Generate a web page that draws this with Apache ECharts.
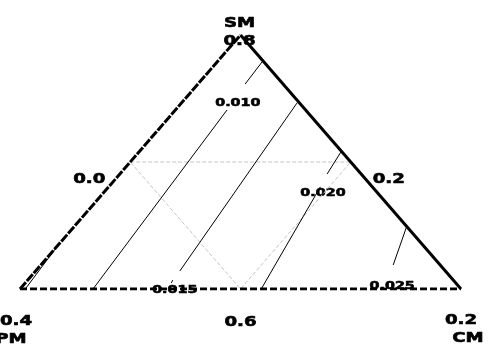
<!DOCTYPE html>
<html>
<head>
<meta charset="utf-8">
<script src="https://cdn.jsdelivr.net/npm/echarts@6/dist/echarts.min.js"></script>
<style>
html, body { margin: 0; padding: 0; background: #fff; }
#chart { width: 488px; height: 344px; }
</style>
</head>
<body>
<div id="chart"></div>
<script>
/* ternary points are [SM, CM], PM = 1 - SM - CM */

var vertexPM = [0, 0];
var vertexSM = [1, 0];
var vertexCM = [0, 1];

// inner (grey) triangle through the edge midpoints
var midPoints = [[0.5, 0], [0.5, 0.5], [0, 0.5]];

// contour lines, null = gap for the label
var contourA = [[0, 0.012], [0.16, 0.001]];
var contourB = [[0, 0.1655], [0.705, 0.117], null, [0.807, 0.107], [0.894, 0.102]];
var contourC = [[0.024, 0.331], [0.035, 0.329], null, [0.071, 0.327], [0.732, 0.262]];
var contourD = [[0, 0.547], [0.402, 0.48], null, [0.453, 0.47], [0.539, 0.458]];
var contourE = [[0.252, 0.752], [0.0945, 0.799]];

var contourLabels = ['0.010', '0.015', '0.020', '0.025'];
var contourLabelAt = [[0.732, 0.128], [-0.004, 0.353], [0.378, 0.498], [0.012, 0.838]];

var cornerNames = ['PM', 'SM', 'CM'];
var cornerTicks = ['0.4', '0.8', '0.2'];
var edgeTicks = ['0.0', '0.2', '0.6']; // left, right, bottom

function toXY(p) {
    if (p == null) return null;
    return [p[1] + p[0] / 2, p[0]];
}

function lineSeries(points, style) {
    // split on null so every piece is its own series
    var out = [];
    var cur = [];
    points.forEach(function (p) {
        if (p == null) {
            if (cur.length) out.push(cur);
            cur = [];
        } else {
            cur.push(toXY(p));
        }
    });
    if (cur.length) out.push(cur);
    return out.map(function (d) {
        return {
            type: 'line',
            data: d,
            symbol: 'none',
            silent: true,
            lineStyle: style
        };
    });
}

var thin = { color: '#000', width: 1 };
var grey = { color: '#c4c4c4', width: 1, type: [4, 2] };

var series = [];
series = series.concat(lineSeries([midPoints[0], midPoints[1], midPoints[2], midPoints[0]], grey));
[contourA, contourB, contourC, contourD, contourE].forEach(function (c) {
    series = series.concat(lineSeries(c, thin));
});
series = series.concat(lineSeries([vertexPM, vertexSM], { color: '#000', width: 3, type: [9, 1.5] }));
series = series.concat(lineSeries([vertexSM, vertexCM], { color: '#000', width: 3 }));
series = series.concat(lineSeries([vertexPM, vertexCM], { color: '#000', width: 3, type: [7, 3] }));

var chart = echarts.init(document.getElementById('chart'));
chart.setOption({
    animation: false,
    grid: { left: 20, right: 27, top: 35, bottom: 55 },
    xAxis: { type: 'value', min: 0, max: 1, show: false },
    yAxis: { type: 'value', min: 0, max: 1, show: false },
    series: series
});

var STRETCH = 1.3;
function txt(p, dx, dy, s, size) {
    var px = chart.convertToPixel({ gridIndex: 0 }, toXY(p));
    return {
        type: 'text',
        x: px[0] + dx,
        y: px[1] + dy,
        scaleX: STRETCH,
        silent: true,
        style: {
            text: s,
            fill: '#000',
            stroke: '#000',
            lineWidth: 0.6,
            font: 'bold ' + size + 'px "DejaVu Sans"',
            align: 'center',
            verticalAlign: 'middle'
        }
    };
}

var g = [];
g.push(txt(vertexSM, -1, -12, cornerNames[1], 14));
g.push(txt(vertexSM, -1, 6, cornerTicks[1], 14));
g.push(txt(vertexPM, -4, 32, cornerTicks[0], 14));
g.push(txt(vertexPM, -9, 50, cornerNames[0], 14));
g.push(txt(vertexCM, 0, 31, cornerTicks[2], 14));
g.push(txt(vertexCM, 7, 49, cornerNames[2], 14));
g.push(txt(midPoints[0], -41, 17, edgeTicks[0], 14));
g.push(txt(midPoints[1], 38, 17, edgeTicks[1], 14));
g.push(txt(midPoints[2], 0, 33, edgeTicks[2], 14));
contourLabels.forEach(function (s, i) {
    g.push(txt(contourLabelAt[i], 0, 0, s, 11));
});
chart.setOption({ graphic: g });
</script>
</body>
</html>
